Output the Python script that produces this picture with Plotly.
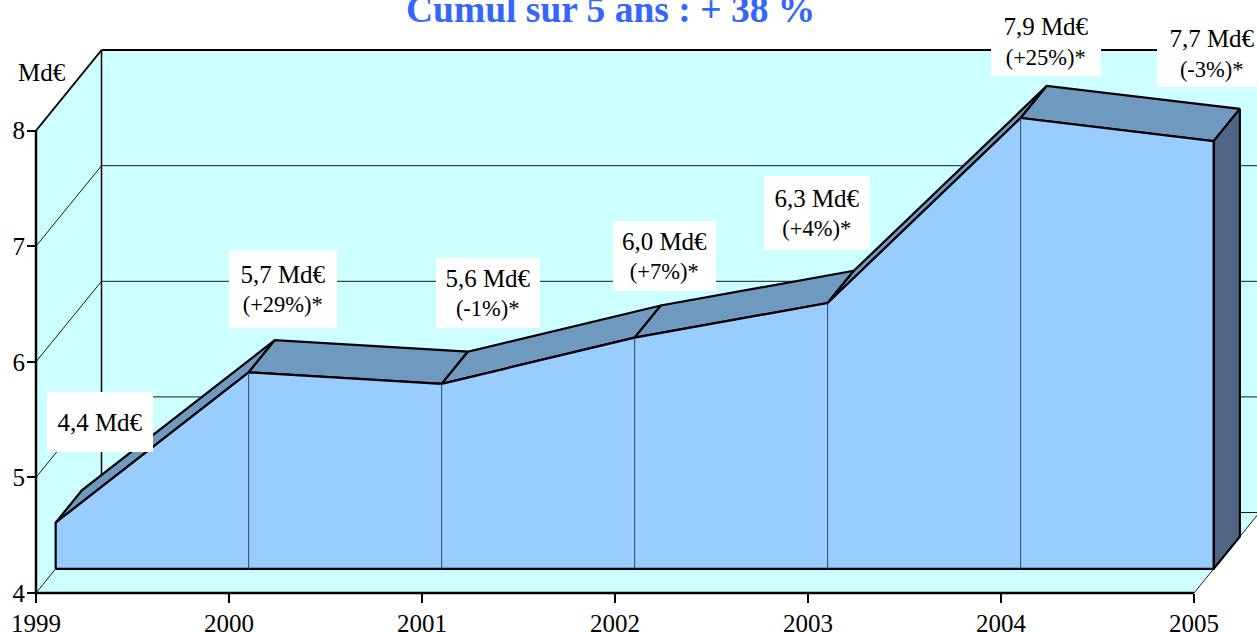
import plotly.graph_objects as go

years = [1999, 2000, 2001, 2002, 2003, 2004, 2005]
values = [4.4, 5.7, 5.6, 6.0, 6.3, 7.9, 7.7]
value_labels = ["4,4 Md€", "5,7 Md€", "5,6 Md€", "6,0 Md€", "6,3 Md€", "7,9 Md€", "7,7 Md€"]
change_labels = ["", "(+29%)*", "(-1%)*", "(+7%)*", "(+4%)*", "(+25%)*", "(-3%)*"]
y_ticks = [4, 5, 6, 7, 8]
title_text = "Cumul sur 5 ans : + 38 %"
unit_text = "Md€"

# layout / style constants
W, H = 1257, 632
ML, MB = 36, 39
PX_YEAR, PX_UNIT = 193.0, 115.6
DX, DY = 65.5 / PX_YEAR, 80.5 / PX_UNIT   # oblique depth of the box in data units
FRONT, BACK = 0.30, 0.70                  # depth of the area's two faces
BASE, TOP = y_ticks[0], y_ticks[-1]
X0, X1 = years[0], years[-1]
BG, FACE, ROOF, SIDE = "#CCFFFF", "#99CCFF", "#7099BF", "#4F6785"
FONT = "Liberation Serif"
label_shift = [(64, 125), (54, 107.5), (66, 115), (49.5, 106), (9, 114), (45, 101), (18, 111.5)]
label_size = [(106, 60), (108, 78), (104, 70), (103, 70), (106, 74), (110, 69), (110, 67)]


def pt(x, y, d=0.0):
    return x + d * DX, y + d * DY


def path(points):
    xs, ys = zip(*[pt(*p) for p in points])
    return list(xs), list(ys)


fig = go.Figure()


def poly(points, fill=None, color="#000", width=2):
    xs, ys = path(points)
    fig.add_trace(go.Scatter(
        x=xs, y=ys, mode="lines", hoverinfo="skip", showlegend=False,
        fill="toself" if fill else None, fillcolor=fill,
        line=dict(color=color, width=width),
    ))


# walls and floor
poly([(X0, BASE, 1), (X1, BASE, 1), (X1, TOP, 1), (X0, TOP, 1)], fill=BG, width=0)
poly([(X0, BASE), (X0, BASE, 1), (X0, TOP, 1), (X0, TOP)], fill=BG, width=0)
poly([(X0, BASE), (X1, BASE), (X1, BASE, 1), (X0, BASE, 1)], fill=BG, width=0)

# gridlines
for v in y_ticks[:-1]:
    poly([(X0, v), (X0, v, 1), (X1, v, 1)], width=1, color="#1a1a1a")
poly([(X1, BASE), (X1, BASE, 1)], width=1, color="#1a1a1a")

# box edges
poly([(X0, TOP), (X0, TOP, 1)], width=1.7)
poly([(X0, TOP, 1), (X1, TOP, 1)], width=2)
poly([(X0, BASE, 1), (X0, TOP, 1)], width=1.5)
poly([(X0, TOP), (X0, BASE), (X1, BASE)], width=2.5)

# area: roof, side, front
for i in range(len(years) - 1):
    a, b = (years[i], values[i]), (years[i + 1], values[i + 1])
    poly([(*a, FRONT), (*b, FRONT), (*b, BACK), (*a, BACK), (*a, FRONT)], fill=ROOF, width=2.2)

last = (years[-1], values[-1])
poly([(last[0], BASE, FRONT), (*last, FRONT), (*last, BACK), (last[0], BASE, BACK), (last[0], BASE, FRONT)], fill=SIDE, width=2.2)

front = [(years[0], BASE, FRONT)] + [(y, v, FRONT) for y, v in zip(years, values)] + [(years[-1], BASE, FRONT), (years[0], BASE, FRONT)]
poly(front, fill=FACE, width=2.2)

for y, v in zip(years[1:-1], values[1:-1]):
    poly([(y, BASE, FRONT), (y, v, FRONT)], width=1, color="#2F4763")

# labels
ann = []
for i, (y, v) in enumerate(zip(years, values)):
    txt = f"<span style='font-size:25px'>{value_labels[i]}</span>"
    if change_labels[i]:
        txt += f"<br>{change_labels[i]}"
    ann.append(dict(
        x=y, y=v, xref="x", yref="y", text=txt, showarrow=False,
        xshift=label_shift[i][0], yshift=label_shift[i][1],
        xanchor="center", yanchor="middle", align="center", valign="middle",
        width=label_size[i][0], height=label_size[i][1],
        bgcolor="#FFFFFF", borderpad=0, borderwidth=0,
        font=dict(family=FONT, size=22.5, color="#000"),
    ))
ann.append(dict(
    x=610 / W, y=1, xref="paper", yref="paper", text=f"<b>{title_text}</b>", showarrow=False,
    xanchor="center", yanchor="top", yshift=13,
    font=dict(family=FONT, size=37.5, color="#3366FF"),
))
ann.append(dict(
    x=X0, y=TOP, xref="x", yref="y", text=unit_text, showarrow=False,
    xanchor="center", yanchor="middle", xshift=6, yshift=58,
    font=dict(family=FONT, size=25, color="#000"),
))

fig.update_layout(
    width=W, height=H, autosize=False,
    margin=dict(l=0, r=0, t=0, b=0, pad=0),
    paper_bgcolor="#FFFFFF", plot_bgcolor="#FFFFFF",
    showlegend=False, annotations=ann,
    font=dict(family=FONT, size=25, color="#000"),
    xaxis=dict(range=[X0 - ML / PX_YEAR, X0 + (W - ML) / PX_YEAR], tickmode="array", tickvals=years, ticktext=[str(y) for y in years],
               automargin=False, ticklabelstandoff=-1, anchor="free", position=MB / H,
               showgrid=False, zeroline=False, showline=False, ticks="outside", ticklen=9, tickwidth=2, tickcolor="#000",
               tickfont=dict(family=FONT, size=25, color="#000")),
    yaxis=dict(range=[BASE - MB / PX_UNIT, BASE + (H - MB) / PX_UNIT], tickmode="array", tickvals=y_ticks, ticktext=[str(t) for t in y_ticks],
               automargin=False, ticklabelstandoff=-3, anchor="free", position=ML / W,
               showgrid=False, zeroline=False, showline=False, ticks="outside", ticklen=9, tickwidth=2, tickcolor="#000",
               tickfont=dict(family=FONT, size=25, color="#000")),
)
fig.write_html("out.html", config={"displayModeBar": False},
               post_script="document.body.style.margin='0';document.body.style.overflow='hidden';")
